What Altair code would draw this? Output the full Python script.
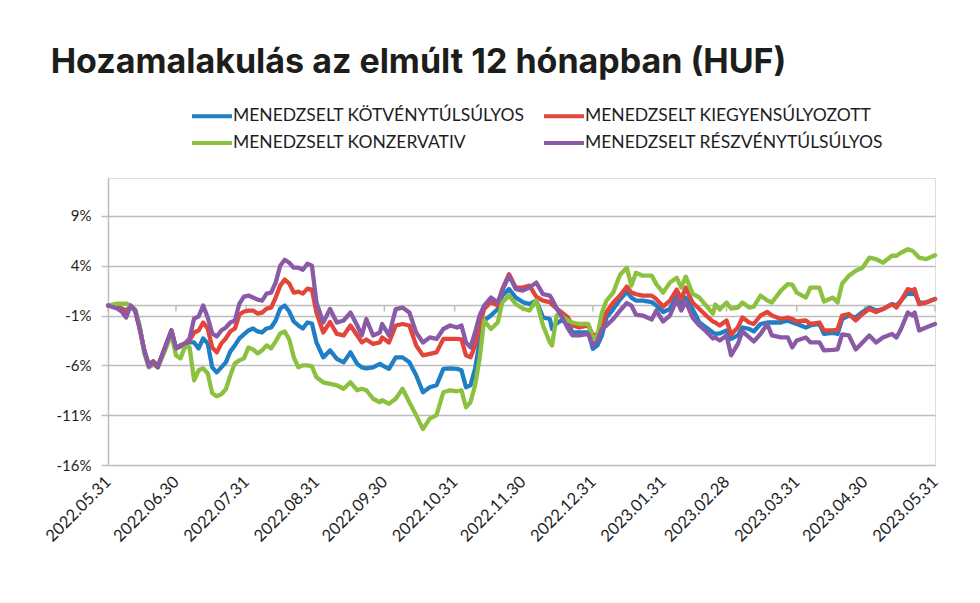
import altair as alt
import pandas as pd

SERIES = ["MENEDZSELT KÖTVÉNYTÚLSÚLYOS", "MENEDZSELT KIEGYENSÚLYOZOTT",
          "MENEDZSELT KONZERVATIV", "MENEDZSELT RÉSZVÉNYTÚLSÚLYOS"]
COLORS = ["#1f7fc4", "#e2453c", "#8cc03f", "#8a5aa6"]

dates = [
    "2022-05-31", "2022-06-04", "2022-06-06", "2022-06-08", "2022-06-10", "2022-06-12", "2022-06-14", "2022-06-16",
    "2022-06-18", "2022-06-20", "2022-06-22", "2022-06-25", "2022-06-28", "2022-06-30", "2022-07-02", "2022-07-04",
    "2022-07-06", "2022-07-08", "2022-07-10", "2022-07-12", "2022-07-14", "2022-07-16", "2022-07-18", "2022-07-20",
    "2022-07-22", "2022-07-24", "2022-07-26", "2022-07-28", "2022-07-30", "2022-08-01", "2022-08-03", "2022-08-05",
    "2022-08-07", "2022-08-09", "2022-08-11", "2022-08-13", "2022-08-15", "2022-08-17", "2022-08-19", "2022-08-21",
    "2022-08-23", "2022-08-25", "2022-08-27", "2022-08-29",
    "2022-08-31", "2022-09-03", "2022-09-06", "2022-09-09", "2022-09-12", "2022-09-15", "2022-09-18", "2022-09-20",
    "2022-09-22", "2022-09-25", "2022-09-28", "2022-09-29", "2022-10-02", "2022-10-05", "2022-10-08", "2022-10-11",
    "2022-10-14", "2022-10-17", "2022-10-20", "2022-10-23", "2022-10-26", "2022-10-29", "2022-11-01", "2022-11-03",
    "2022-11-05", "2022-11-07", "2022-11-09", "2022-11-11", "2022-11-13", "2022-11-16", "2022-11-19", "2022-11-21",
    "2022-11-24", "2022-11-27",
    "2022-11-30", "2022-12-03", "2022-12-06", "2022-12-09", "2022-12-12", "2022-12-13", "2022-12-15", "2022-12-17",
    "2022-12-20", "2022-12-22", "2022-12-25", "2022-12-29", "2022-12-31", "2023-01-02", "2023-01-04", "2023-01-06",
    "2023-01-09", "2023-01-12", "2023-01-15", "2023-01-17", "2023-01-19", "2023-01-22", "2023-01-26", "2023-01-28",
    "2023-01-31", "2023-02-03", "2023-02-06", "2023-02-08", "2023-02-10", "2023-02-13", "2023-02-16", "2023-02-19",
    "2023-02-22", "2023-02-23", "2023-02-25", "2023-02-28", "2023-03-02", "2023-03-05", "2023-03-07", "2023-03-10",
    "2023-03-12", "2023-03-15", "2023-03-18", "2023-03-20", "2023-03-24", "2023-03-27", "2023-03-29", "2023-03-31",
    "2023-04-04", "2023-04-06", "2023-04-10", "2023-04-12", "2023-04-16", "2023-04-18", "2023-04-20", "2023-04-23",
    "2023-04-26", "2023-04-29", "2023-05-02", "2023-05-05", "2023-05-08", "2023-05-12", "2023-05-14", "2023-05-16",
    "2023-05-19", "2023-05-21", "2023-05-22", "2023-05-24", "2023-05-27", "2023-05-31",
]

kotveny = [
    0, -0.1, -0.3, -0.5, -0.1, -0.5, -2.3, -4.5, -5.9, -5.6, -6.1, -4.3, -2.5, -4.3, -4.1, -3.8, -3.7, -3.7, -4.3, -3.3,
    -3.8, -6.2, -6.7, -6.2, -5.7, -4.6, -4.0, -3.3, -2.9, -2.5, -2.3, -2.6, -2.7, -2.3, -2.2, -1.5, -0.3, 0.0, -0.6, -1.6,
    -2.0, -2.3, -1.7, -1.8,
    -3.7, -5.2, -4.5, -5.35, -5.7, -4.7, -5.85, -6.2, -6.3, -6.2, -5.85, -6.0, -6.35, -5.2, -5.2, -5.7, -7.0, -8.7, -8.2,
    -8.0, -6.35, -6.3, -6.35, -6.5, -8.2, -8.0, -6.35, -3.7, -1.5, -1.0, -0.35, 1.0, 1.65, 0.8,
    0.35, 0.15, 0.5, -1.2, -1.35, -2.35, -1.8, -1.5, -1.7, -2.7, -2.7, -2.7, -4.35, -4.0, -3.0, -1.2, -0.35, 0.6, 1.4,
    0.8, 0.5, 0.5, 0.35, 0.0, -0.65, -0.35, 1.0, 0.0, 0.8, -0.35, -1.7, -2.2,
    -2.7, -2.85, -2.8, -2.5, -3.35, -3.0, -2.2, -2.35, -2.6, -1.85, -1.7, -1.7, -1.7, -1.5, -1.7, -1.85, -2.2, -2.0,
    -1.85, -2.85, -2.75, -2.85, -1.35, -1.0, -1.2, -0.65, -0.2, -0.5, -0.35, 0.15, 0.0, 0.5, 1.3, 1.15, 1.3, 0.3, 0.3,
    0.65,
]

kiegyensulyozott = [
    0, -0.1, -0.4, -0.6, -0.1, -0.5, -2.3, -4.5, -6.0, -5.6, -6.1, -4.3, -2.5, -4.3, -4.0, -3.8, -3.5, -2.7, -2.5, -1.7,
    -2.3, -4.2, -4.7, -3.8, -3.3, -2.6, -2.3, -0.9, -0.6, -0.5, -0.5, -0.8, -0.7, -0.3, -0.2, 0.8, 2.0, 2.6, 2.2, 1.3,
    1.4, 1.2, 1.7, 1.6,
    -0.7, -2.7, -1.65, -2.85, -3.0, -2.0, -3.0, -3.7, -3.4, -3.85, -3.7, -3.2, -3.7, -2.0, -1.85, -2.0, -4.0, -5.0,
    -4.85, -4.7, -3.35, -3.35, -3.35, -3.4, -5.0, -5.2, -4.0, -2.0, -0.35, 0.35, 0.0, 1.65, 3.15, 1.8,
    1.8, 2.0, 0.9, 0.5, 0.35, 0.1, -0.3, -0.65, -1.2, -2.0, -2.2, -2.0, -3.0, -2.85, -2.0, -0.65, 0.3, 1.0, 1.9, 1.3,
    1.15, 1.0, 1.0, 0.65, -0.1, 0.5, 1.6, 0.65, 1.8, 0.3, -0.35, -1.0,
    -1.6, -1.7, -2.0, -1.5, -2.9, -2.2, -1.2, -1.7, -1.85, -1.0, -0.65, -1.0, -1.35, -1.2, -1.35, -1.6, -1.5, -1.85,
    -1.7, -2.5, -2.5, -2.4, -1.0, -0.85, -1.5, -0.85, -0.35, -0.65, -0.35, 0.15, -0.2, 0.5, 1.65, 1.5, 1.65, 0.15, 0.3,
    0.65,
]

konzervativ = [
    0, 0.2, 0.2, 0.2, 0.0, -0.4, -2.0, -4.8, -6.2, -5.9, -6.2, -4.6, -2.9, -5.0, -5.3, -4.1, -4.2, -7.5, -6.5, -6.3,
    -6.8, -8.8, -9.1, -8.9, -8.4, -7.0, -5.8, -5.5, -5.3, -4.2, -4.4, -4.8, -4.5, -4.0, -4.3, -3.6, -2.8, -2.6, -3.4,
    -5.2, -6.2, -6.0, -6.0, -6.1,
    -7.2, -7.7, -7.85, -8.0, -8.35, -7.7, -8.5, -8.35, -8.5, -9.35, -9.7, -9.5, -9.85, -9.35, -8.35, -9.7, -11.0, -12.4,
    -11.35, -11.0, -8.7, -8.5, -8.6, -8.5, -10.2, -9.7, -8.0, -5.35, -1.5, -2.35, -1.7, 0.3, 1.0, 0.15,
    -0.3, -0.5, 0.5, -2.0, -3.7, -4.0, -1.0, -1.0, -1.5, -1.7, -1.85, -1.85, -3.3, -3.0, -0.7, 0.5, 1.3, 3.1, 3.8, 2.0,
    3.3, 3.0, 3.0, 2.15, 1.3, 2.3, 2.8, 1.8, 2.9, 1.2, 0.8, 0.0,
    -0.8, 0.1, -0.4, 0.3, -0.3, -0.2, 0.3, -0.2, -0.1, 1.0, 0.5, 0.3, 1.5, 2.15, 2.1, 1.3, 0.8, 1.8, 1.8, 0.4, 0.8,
    0.3, 2.2, 3.0, 3.5, 3.8, 4.8, 4.65, 4.3, 5.0, 5.0, 5.3, 5.65, 5.5, 5.3, 4.8, 4.65, 5.05,
]

reszveny = [
    0, -0.3, -0.6, -1.2, 0.0, -0.5, -2.3, -4.5, -6.1, -5.7, -6.2, -4.3, -2.5, -4.3, -4.0, -3.8, -3.3, -1.3, -1.1, 0.0,
    -1.2, -2.8, -3.1, -2.5, -2.2, -1.7, -1.5, 0.2, 0.9, 1.0, 0.8, 0.6, 0.5, 1.2, 1.3, 2.3, 4.0, 4.6, 4.3, 3.8, 3.8, 3.6,
    4.2, 4.0,
    0.3, -1.7, -0.35, -1.7, -1.5, -0.7, -2.0, -3.0, -1.35, -3.0, -2.7, -1.85, -3.0, -0.35, -0.2, -0.7, -2.7, -3.7, -3.2,
    -3.35, -2.35, -2.0, -2.2, -2.0, -3.7, -4.2, -2.7, -1.0, 0.0, 0.8, 0.3, 1.5, 3.0, 1.65,
    1.5, 1.8, 2.3, 1.15, 1.0, 0.65, -0.3, -1.0, -2.3, -3.0, -3.0, -2.85, -4.0, -3.5, -2.35, -2.0, -1.35, -0.5, 0.25,
    0.0, -0.9, -1.0, -1.4, -0.5, -1.6, -1.0, 0.6, -0.5, 0.4, -1.2, -2.0, -2.6,
    -3.3, -3.2, -3.5, -3.0, -5.0, -3.85, -2.6, -3.2, -3.6, -2.85, -1.85, -3.0, -3.2, -3.2, -4.2, -3.5, -3.2, -3.7,
    -3.7, -4.5, -4.45, -4.4, -2.9, -3.0, -4.4, -3.7, -3.0, -3.7, -3.2, -2.85, -3.2, -2.35, -0.7, -1.0, -0.7, -2.5,
    -2.2, -1.85,
]

month_ends = ["2022-05-31", "2022-06-30", "2022-07-31", "2022-08-31", "2022-09-30", "2022-10-31", "2022-11-30",
              "2022-12-31", "2023-01-31", "2023-02-28", "2023-03-31", "2023-04-30", "2023-05-31"]
y_ticks = [-16, -11, -6, -1, 4, 9]

frames = []
for name, vals in zip(SERIES, [kotveny, kiegyensulyozott, konzervativ, reszveny]):
    frames.append(pd.DataFrame({"date": pd.to_datetime(dates), "series": name, "value": vals}))
df = pd.concat(frames, ignore_index=True)

ticks_df = pd.DataFrame({"date": pd.to_datetime(month_ends)})


def dt(s):
    y, m, d = (int(p) for p in s.split("-"))
    return alt.DateTime(year=y, month=m, date=d)


x_scale = alt.Scale(domain=[dt(month_ends[0]), dt(month_ends[-1])])
y_scale = alt.Scale(domain=[-16, 12.8], nice=False, zero=False)

TXT = "#1e1e1e"
GRID = "#bdbdbd"

lines = alt.Chart(df).mark_line(strokeWidth=4.3, strokeJoin="round", strokeCap="round").encode(
    x=alt.X("date:T", scale=x_scale,
            axis=alt.Axis(title=None, values=[dt(s) for s in month_ends], format="%Y.%m.%d",
                          labelAngle=-45, labelAlign="right", labelBaseline="middle",
                          labelPadding=14, domain=False, ticks=False, grid=False,
                          labelFont="Lato", labelFontSize=16.5, labelColor=TXT, labelOverlap=False)),
    y=alt.Y("value:Q", scale=y_scale,
            axis=alt.Axis(title=None, values=y_ticks, labelExpr="datum.value + '%'",
                          grid=True, gridColor=GRID, gridWidth=1.5,
                          domain=True, domainColor=GRID, domainWidth=1.5,
                          ticks=True, tickColor=GRID, tickSize=7, tickWidth=1.5,
                          labelFont="Lato", labelFontSize=15, labelColor=TXT, labelPadding=10)),
    color=alt.Color("series:N",
                    scale=alt.Scale(domain=SERIES, range=COLORS),
                    legend=alt.Legend(title=None, orient="none", legendX=92, legendY=-74, columns=2,
                                      direction="horizontal",
                                      symbolType="M-2,0L2,0", symbolSize=400, symbolStrokeWidth=4,
                                      labelFont="Lato", labelFontSize=17.5, labelColor=TXT, labelLimit=0,
                                      rowPadding=6, columnPadding=11, labelOffset=9)),
)

zero_line = alt.Chart(pd.DataFrame({"v": [0]})).mark_rule(color=GRID, strokeWidth=1.5).encode(
    y=alt.Y("v:Q", scale=y_scale)
)

month_ticks = alt.Chart(ticks_df).mark_rule(color=GRID, strokeWidth=1.5).encode(
    x=alt.X("date:T", scale=x_scale),
    y=alt.datum(0),
    y2=alt.datum(-0.6),
)

chart = alt.layer(zero_line, month_ticks, lines).properties(
    width=827,
    height=287,
    autosize=alt.AutoSizeParams(type="none"),
    padding={"left": 100, "top": 170, "right": 29, "bottom": 110},
    title=alt.TitleParams("Hozamalakulás az elmúlt 12 hónapban (HUF)", anchor="start", font="Inter",
                          fontSize=34, fontWeight=700, color="#1d1d1b", dx=8, dy=-20),
).configure_view(stroke=None).configure(background="white")

chart.save("out.html", embed_options={"renderer": "svg", "actions": False})
